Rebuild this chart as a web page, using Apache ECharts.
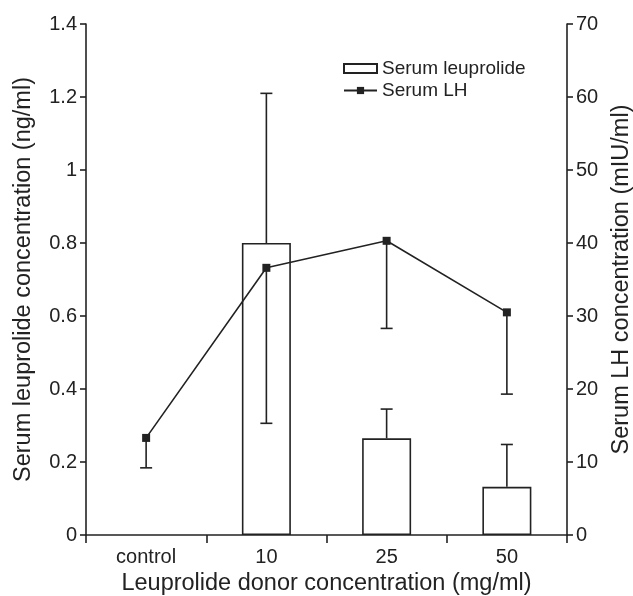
<!DOCTYPE html>
<html>
<head>
<meta charset="utf-8" />
<title>Leuprolide</title>
<script src="https://cdn.jsdelivr.net/npm/echarts@6/dist/echarts.min.js"></script>
<style>
  html, body { margin: 0; padding: 0; background: #fff; }
  #main { width: 633px; height: 596px; }
</style>
</head>
<body>
<div id="main"></div>
<script type="text/javascript">
// data
var categories = ['control', '10', '25', '50'];
var leuprolide = ['-', 0.8, 0.265, 0.132];          // ng/ml (bars)
var leuprolideUpper = [null, 1.21, 0.345, 0.248];    // top of error bar
var lh = [13.3, 36.6, 40.3, 30.5];                   // mIU/ml (line)
var lhLower = [9.2, 15.3, 28.3, 19.3];               // bottom of error bar

var ink = '#222';
var font = 'Liberation Sans, Arial, Helvetica, sans-serif';

// error bars: [categoryIndex, value, end]  (cap only at the end)
var leuErr = [], lhErr = [];
categories.forEach(function (c, i) {
  if (leuprolideUpper[i] != null) leuErr.push([i, leuprolide[i], leuprolideUpper[i]]);
  if (lhLower[i] != null) lhErr.push([i, lh[i], lhLower[i]]);
});

function errorBar(params, api) {
  var i = api.value(0);
  var a = api.coord([i, api.value(1)]);
  var b = api.coord([i, api.value(2)]);
  var w = 6;
  var st = { stroke: ink, lineWidth: 1.6 };
  return {
    type: 'group',
    children: [
      { type: 'line', shape: { x1: a[0], y1: a[1], x2: b[0], y2: b[1] }, style: st },
      { type: 'line', shape: { x1: b[0] - w, y1: b[1], x2: b[0] + w, y2: b[1] }, style: st }
    ]
  };
}

var myChart = echarts.init(document.getElementById('main'));
var axisLine = { show: true, lineStyle: { color: ink, width: 1.6 } };
var axisTick = { show: true, length: 6, lineStyle: { color: ink, width: 1.6 } };

myChart.setOption({
  animation: false,
  textStyle: { fontFamily: font, color: ink },
  grid: { left: 86, right: 66, top: 24, bottom: 61, outerBoundsMode: 'none', containLabel: false },
  legend: {
    orient: 'vertical',
    left: 338,
    top: 54,
    itemWidth: 33,
    itemHeight: 9,
    itemGap: 3,
    textStyle: { fontFamily: font, fontSize: 19, color: ink },
    data: [
      { name: 'Serum leuprolide', icon: 'rect' },
      { name: 'Serum LH' }
    ]
  },
  xAxis: {
    type: 'category',
    data: categories,
    boundaryGap: true,
    name: 'Leuprolide donor concentration (mg/ml)',
    nameLocation: 'middle',
    nameGap: 30,
    nameTextStyle: { fontSize: 23.5, color: ink },
    axisLine: axisLine,
    axisTick: { show: true, length: 8, lineStyle: { color: ink, width: 1.6 } },
    axisLabel: { fontSize: 20, color: ink, margin: 12 },
    splitLine: { show: false }
  },
  yAxis: [
    {
      type: 'value',
      min: 0, max: 1.4, interval: 0.2,
      name: 'Serum leuprolide concentration (ng/ml)',
      nameLocation: 'middle',
      nameGap: 50,
      nameTextStyle: { fontSize: 23.5, color: ink },
      axisLine: axisLine,
      axisTick: axisTick,
      axisLabel: { fontSize: 20, color: ink, margin: 9 },
      splitLine: { show: false }
    },
    {
      type: 'value',
      position: 'right',
      min: 0, max: 70, interval: 10,
      name: 'Serum LH concentration (mIU/ml)',
      nameLocation: 'middle',
      nameGap: 35,
      nameRotate: 90,
      nameTextStyle: { fontSize: 23.5, color: ink },
      axisLine: axisLine,
      axisTick: axisTick,
      axisLabel: { fontSize: 20, color: ink, margin: 9 },
      splitLine: { show: false }
    }
  ],
  series: [
    {
      name: 'Serum leuprolide',
      type: 'bar',
      yAxisIndex: 0,
      data: leuprolide,
      barWidth: 49,
      itemStyle: { color: '#fff', borderColor: ink, borderWidth: 1.6 },
      z: 2
    },
    {
      name: 'leuErr',
      type: 'custom',
      yAxisIndex: 0,
      data: leuErr,
      renderItem: errorBar,
      z: 3
    },
    {
      name: 'Serum LH',
      type: 'line',
      yAxisIndex: 1,
      data: lh,
      symbol: 'rect',
      symbolSize: 8,
      showAllSymbol: true,
      lineStyle: { color: ink, width: 1.6 },
      itemStyle: { color: ink },
      z: 5
    },
    {
      name: 'lhErr',
      type: 'custom',
      yAxisIndex: 1,
      data: lhErr,
      renderItem: errorBar,
      z: 4
    }
  ]
});
</script>
</body>
</html>
